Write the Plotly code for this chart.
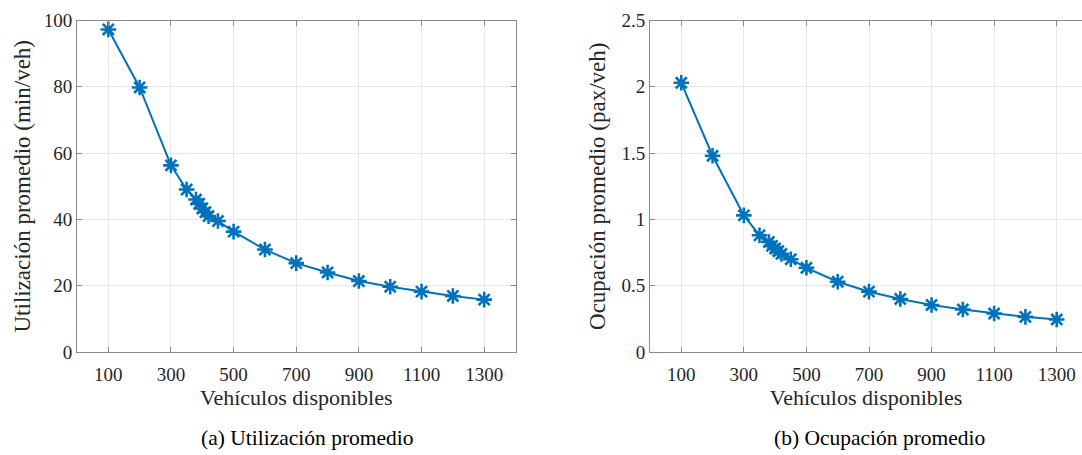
import plotly.graph_objects as go

vehiculos = [100, 200, 300, 350, 380, 390, 400, 410, 420, 450, 500, 600, 700, 800, 900, 1000, 1100, 1200, 1300]
utilizacion = [97.3, 79.8, 56.3, 49.0, 46.0, 44.7, 43.3, 42.2, 41.0, 39.5, 36.3, 30.9, 26.8, 24.0, 21.4, 19.7, 18.2, 16.9, 15.8]
ocupacion = [2.03, 1.48, 1.03, 0.88, 0.83, 0.80, 0.78, 0.76, 0.74, 0.70, 0.635, 0.53, 0.455, 0.40, 0.355, 0.32, 0.29, 0.265, 0.245]

x_ticks = [100, 300, 500, 700, 900, 1100, 1300]
y1_ticks = [0, 20, 40, 60, 80, 100]
y2_ticks = [0, 0.5, 1, 1.5, 2, 2.5]
y2_labels = ["0", "0.5", "1", "1.5", "2", "2.5"]

x_title = "Vehículos disponibles"
y1_title = "Utilización promedio (min/veh)"
y2_title = "Ocupación promedio (pax/veh)"
cap1 = "(a) Utilización promedio"
cap2 = "(b) Ocupación promedio"

BLUE = "#0072BD"
FONT = "Liberation Serif"
AX = "#8a8a8a"
GRID = "#e8e8e8"
TXT = "#262626"

fig = go.Figure()
marker = dict(symbol="asterisk-open", size=13, color=BLUE, line=dict(color=BLUE, width=2.6))
fig.add_trace(go.Scatter(x=vehiculos, y=utilizacion, mode="lines+markers",
                         line=dict(color=BLUE, width=2), marker=marker,
                         xaxis="x", yaxis="y", showlegend=False))
fig.add_trace(go.Scatter(x=vehiculos, y=ocupacion, mode="lines+markers",
                         line=dict(color=BLUE, width=2), marker=marker,
                         xaxis="x2", yaxis="y2", showlegend=False))

W, H = 1082, 455
ydom = [(H - 352) / H, (H - 20.5) / H]

common_x = dict(tickvals=x_ticks, ticks="inside", ticklen=5, tickcolor=AX,
                showline=True, linecolor=AX, linewidth=1, showgrid=True,
                gridcolor=GRID, gridwidth=1, zeroline=False, automargin=False,
                ticklabelstandoff=5,
                tickfont=dict(family=FONT, size=19, color=TXT),
                title=dict(text=x_title, font=dict(family=FONT, size=22, color=TXT), standoff=4))
common_y = dict(ticks="inside", ticklen=5, tickcolor=AX,
                showline=True, linecolor=AX, linewidth=1, showgrid=True,
                gridcolor=GRID, gridwidth=1, zeroline=False, automargin=False,
                tickfont=dict(family=FONT, size=19, color=TXT))

fig.update_layout(
    width=W, height=H,
    margin=dict(l=0, r=0, t=0, b=0),
    paper_bgcolor="white", plot_bgcolor="white",
    font=dict(family=FONT, color=TXT),
    xaxis=dict(domain=[77 / W, 515.5 / W], range=[0, 1400], mirror="allticks", anchor="y", **common_x),
    yaxis=dict(domain=ydom, range=[0, 100], tickvals=y1_ticks, mirror="allticks", anchor="x",
               title=dict(text=y1_title, font=dict(family=FONT, size=23, color=TXT), standoff=6),
               **common_y),
    xaxis2=dict(domain=[650 / W, 1.0], range=[0, 1400 * (W - 650) / (1088 - 650)], mirror="allticks", anchor="y2", **common_x),
    yaxis2=dict(domain=ydom, range=[0, 2.5], tickvals=y2_ticks, ticktext=y2_labels, mirror=False, anchor="x2",
                title=dict(text=y2_title, font=dict(family=FONT, size=23, color=TXT), standoff=9),
                **common_y),
    annotations=[
        dict(text=cap1, x=307 / W, y=(H - 438) / H, xref="paper", yref="paper",
             showarrow=False, xanchor="center", yanchor="middle",
             font=dict(family=FONT, size=21.5, color="#000000")),
        dict(text=cap2, x=879 / W, y=(H - 438) / H, xref="paper", yref="paper",
             showarrow=False, xanchor="center", yanchor="middle",
             font=dict(family=FONT, size=21.5, color="#000000")),
    ],
)

fig.write_html("out.html")
